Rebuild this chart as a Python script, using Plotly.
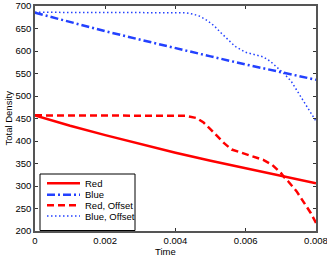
import plotly.graph_objects as go

# ---- data ----
time_base = [0, 0.001, 0.002, 0.003, 0.004, 0.005, 0.006, 0.007, 0.008]
red = [457, 434, 413, 393, 374, 356, 339, 322, 306]
blue = [685, 664, 644, 625, 606, 588, 570, 553, 536]

time_red_off = [0, 0.001, 0.002, 0.003, 0.004, 0.0043, 0.0046, 0.0048, 0.005, 0.0052,
                0.0054, 0.0056, 0.0059, 0.0062, 0.0065, 0.00675, 0.007, 0.0071, 0.0072,
                0.00745, 0.00765, 0.00785, 0.008]
red_off = [457, 457, 457, 457, 457, 456, 451, 441, 426, 410, 394, 381, 373, 365, 358,
           347, 329, 319, 311, 288, 265, 240, 218]

time_blue_off = [0, 0.001, 0.002, 0.003, 0.004, 0.0043, 0.0045, 0.0047, 0.0049, 0.0051,
                 0.0053, 0.0055, 0.0057, 0.006, 0.0063, 0.0065, 0.0067, 0.0069, 0.0071,
                 0.0073, 0.0075, 0.0077, 0.0079, 0.008]
blue_off = [686, 686, 686, 686, 686, 685, 682, 677, 668, 656, 640, 624, 610, 597, 592,
            587, 577, 563, 549, 532, 506, 480, 456, 444]

series_names = ["Red", "Blue", "Red, Offset", "Blue, Offset"]
x_ticks = [0, 0.002, 0.004, 0.006, 0.008]
x_ticktext = ["0", "0.002", "0.004", "0.006", "0.008"]
y_ticks = [200, 250, 300, 350, 400, 450, 500, 550, 600, 650, 700]
x_title = "Time"
y_title = "Total Density"

RED = "rgb(255,0,0)"
BLUE = "rgb(35,65,255)"
styles = [
    dict(color=RED, width=2.5, dash="solid"),
    dict(color=BLUE, width=2.5, dash="8px,3px,2px,3px"),
    dict(color=RED, width=2.5, dash="7px,4px"),
    dict(color=BLUE, width=1.5, dash="1.5px,2.5px"),
]
xs = [time_base, time_base, time_red_off, time_blue_off]
ys = [red, blue, red_off, blue_off]

fig = go.Figure()
for name, x, y, st in zip(series_names, xs, ys, styles):
    fig.add_trace(go.Scatter(x=x, y=y, mode="lines", name=name, line=st,
                             showlegend=False, cliponaxis=False))

FONT = "Liberation Sans, Arial, sans-serif"
L, R, T, B = 35, 11, 6, 33
W, H = 327, 264
fig.update_layout(
    width=W, height=H,
    margin=dict(l=L, r=R, t=T, b=B, autoexpand=False),
    paper_bgcolor="white", plot_bgcolor="white",
    font=dict(family=FONT, size=9.5, color="black"),
    xaxis=dict(range=[0, 0.008000001], tickvals=x_ticks, ticktext=x_ticktext,
               ticks="inside", ticklen=3, tickcolor="#333", showgrid=False,
               zeroline=False, showline=True, linecolor="#555", linewidth=1.5,
               mirror="ticks", automargin=False, ticklabeloverflow="allow",
               tickfont=dict(size=9.5)),
    yaxis=dict(range=[200, 700], tickvals=y_ticks,
               ticks="inside", ticklen=3, tickcolor="#333", showgrid=False,
               zeroline=False, showline=True, linecolor="#555", linewidth=1.5,
               mirror="ticks", automargin=False, ticklabeloverflow="allow",
               tickfont=dict(size=9.5)),
)

PW, PH = W - L - R, H - T - B

def px2x(p):
    return (p - L) / PW

def py2y(p):
    return (H - B - p) / PH

shapes = [dict(type="rect", xref="paper", yref="paper",
               x0=px2x(40), x1=px2x(135), y0=py2y(230.5), y1=py2y(174),
               line=dict(color="black", width=1), fillcolor="white", layer="above")]
annotations = [
    dict(xref="paper", yref="paper", x=px2x(165), y=py2y(252), text=x_title,
         showarrow=False, xanchor="center", yanchor="middle",
         font=dict(size=9.5, family=FONT, color="black")),
    dict(xref="paper", yref="paper", x=px2x(8), y=py2y(118.5), text=y_title,
         showarrow=False, xanchor="center", yanchor="middle", textangle=-90,
         font=dict(size=9.5, family=FONT, color="black")),
]
entry_y = [183.3, 194.7, 205.3, 216]
for name, st, ey in zip(series_names, styles, entry_y):
    shapes.append(dict(type="line", xref="paper", yref="paper",
                       x0=px2x(47), x1=px2x(80), y0=py2y(ey), y1=py2y(ey),
                       line=dict(color=st["color"], width=st["width"], dash=st["dash"]),
                       layer="above"))
    annotations.append(dict(xref="paper", yref="paper", x=px2x(83), y=py2y(ey),
                            text=name, showarrow=False, xanchor="left", yanchor="middle",
                            font=dict(size=9.5, family=FONT, color="black")))
fig.update_layout(shapes=shapes, annotations=annotations)

fig.write_html("out.html", config={"displayModeBar": False},
               post_script="document.body.style.margin='0';document.body.style.padding='0';")
